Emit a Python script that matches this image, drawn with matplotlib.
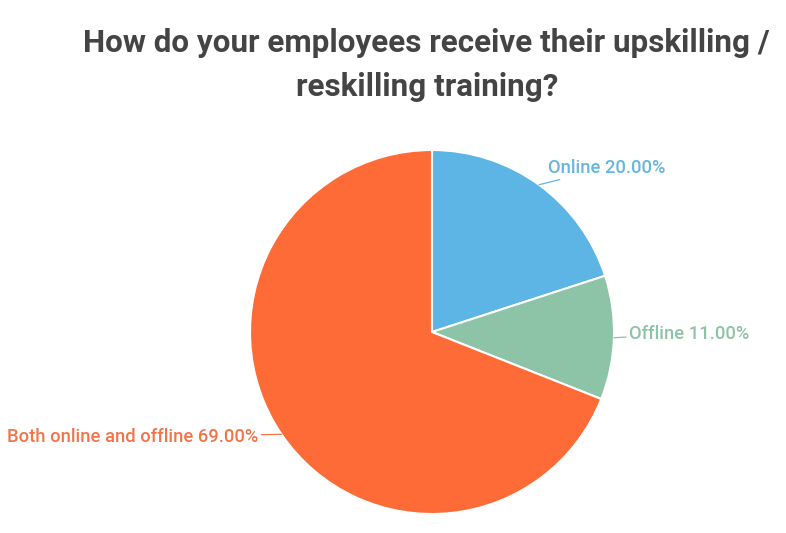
import numpy as np
import matplotlib.pyplot as plt

labels = ['Online', 'Offline', 'Both online and offline']
shares = [20.0, 11.0, 69.0]
colors = ['#5DB5E5', '#8DC3A7', '#FF6B37']
text_colors = ['#66B6E0', '#8DC3A7', '#F2754A']

# offsets of the label (in pixels) from the slice edge, and alignment
offsets = [(9, 17), (15, 4), (-23, -3)]
aligns = ['left', 'left', 'right']

plt.rcParams['font.family'] = ['Roboto', 'DejaVu Sans']

fig = plt.figure(figsize=(7.86, 5.33), dpi=100)
fig.text(0.543, 0.878, 'How do your employees receive their upskilling /\nreskilling training?',
         ha='center', va='center', fontsize=22.6, fontweight='bold', color='#444444',
         linespacing=1.6)

r = 182
ax = fig.add_axes([(432 - r) / 786, (533 - 332 - r) / 533, 2 * r / 786, 2 * r / 533])
wedges, _ = ax.pie(shares, colors=colors, startangle=90, counterclock=False,
                   wedgeprops=dict(edgecolor='white', linewidth=1.5))
ax.set_xlim(-1, 1)
ax.set_ylim(-1, 1)
ax.set_aspect('equal')

for w, lab, val, tc, off, ha in zip(wedges, labels, shares, text_colors, offsets, aligns):
    ang = np.deg2rad((w.theta1 + w.theta2) / 2)
    x, y = np.cos(ang), np.sin(ang)
    ax.annotate(f'{lab} {val:.2f}%', xy=(x, y), xytext=off, textcoords='offset pixels',
                ha=ha, va='center', fontsize=13.2, fontweight='medium', color=tc,
                arrowprops=dict(arrowstyle='-', color=tc, lw=0.9, shrinkA=0, shrinkB=0),
                annotation_clip=False)

fig.savefig('out.png', dpi=100)
